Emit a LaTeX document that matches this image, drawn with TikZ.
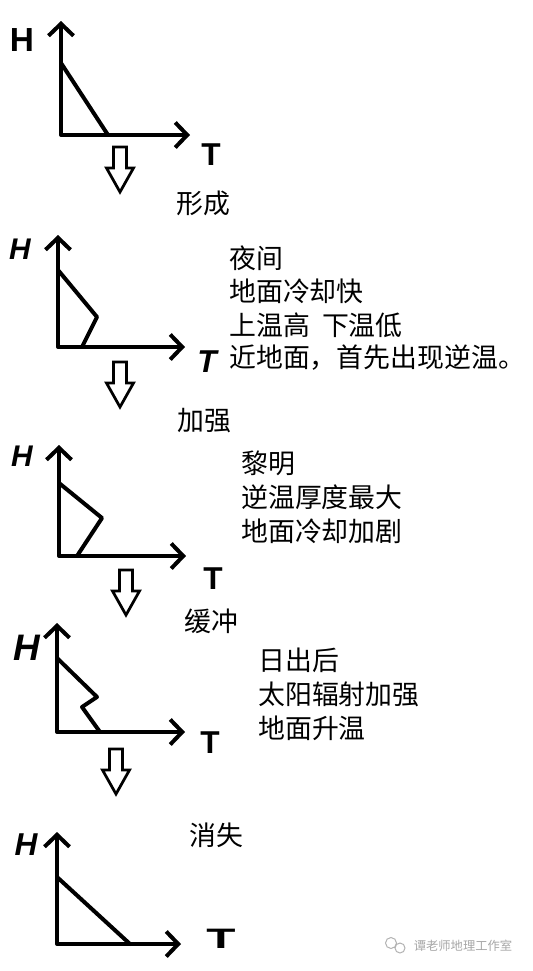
\documentclass[tikz,border=0pt]{standalone}
\usepackage{fontspec}
\setmainfont{Liberation Sans}
\newfontfamily\cjk{Noto Sans CJK SC}
\usetikzlibrary{arrows.meta,positioning}

\tikzset{
  barb/.tip={Straight Barb[length=0.24cm,width=0.5cm]},
  axes/.style={line width=0.08cm,line cap=round,line join=round,barb-barb},
  profile/.style={line width=0.08cm,line cap=round,line join=round},
  lbl/.style={font=\bfseries\fontsize{18pt}{18pt}\selectfont,inner sep=0pt},
  txt/.style={font=\cjk\fontsize{15.3pt}{19pt}\selectfont,inner sep=0pt,anchor=west},
  blockdown/.pic={\draw[line width=0.055cm,line join=miter]
      (-6.5,0) -- (-6.5,21) -- (-13.5,21) -- (0,45) -- (13.5,21) -- (6.5,21) -- (6.5,0) -- cycle;}
}

\begin{document}
\begin{tikzpicture}[x=0.02cm,y=-0.02cm]
  \useasboundingbox (0,0) rectangle (533,971);

  % formation
  \coordinate (o1) at (61,135); \coordinate (h1) at (61,21); \coordinate (t1) at (190,135);
  \draw[axes] (h1) -- (o1) -- (t1);
  \draw[profile] (61,63) -- (108,135);
  \node[lbl,font=\bfseries\fontsize{19pt}{19pt}\selectfont] (H1) at (22,40) {H};
  \node[lbl] (T1) at (211,155) {T};
  \pic at (120,147) {blockdown};
  \node[txt,anchor=center] (s1) at (203,203) {形成};

  % night
  \coordinate (o2) at (58,347); \coordinate (h2) at (58,235); \coordinate (t2) at (185,347);
  \draw[axes] (h2) -- (o2) -- (t2);
  \draw[profile] (58,270) -- (97,317) -- (82,347);
  \node[lbl,font=\bfseries\itshape\fontsize{17pt}{17pt}\selectfont] (H2) at (20,249) {H};
  \node[lbl,font=\bfseries\itshape\fontsize{18pt}{18pt}\selectfont] (T2) at (207,362) {T};
  \node[txt] (a1) at (229,258) {夜间};
  \node[txt] (a2) at (229,291) {地面冷却快};
  \node[txt] (a3) at (229,325) {上温高\ \ 下温低};
  \node[txt] (a4) at (229,358) {近地面，首先出现逆温。};
  \pic at (120,362) {blockdown};
  \node[txt,anchor=center] (s2) at (204,421) {加强};

  % dawn
  \coordinate (o3) at (59,556); \coordinate (h3) at (59,445); \coordinate (t3) at (186,556);
  \draw[axes] (h3) -- (o3) -- (t3);
  \draw[profile] (59,483) -- (102,518) -- (77,556);
  \node[lbl,font=\bfseries\itshape\fontsize{17pt}{17pt}\selectfont] (H3) at (22,456) {H};
  \node[lbl] (T3) at (213,579) {T};
  \node[txt] (b1) at (241,463) {黎明};
  \node[txt] (b2) at (241,497) {逆温厚度最大};
  \node[txt] (b3) at (241,531) {地面冷却加剧};
  \pic at (126,570) {blockdown};
  \node[txt,anchor=center] (s3) at (211,621) {缓冲};

  % sunrise
  \coordinate (o4) at (57,732); \coordinate (h4) at (57,623); \coordinate (t4) at (185,732);
  \draw[axes] (h4) -- (o4) -- (t4);
  \draw[profile] (57,658) -- (97,697) -- (82,707) -- (100,732);
  \node[lbl,font=\bfseries\itshape\fontsize{21pt}{21pt}\selectfont] (H4) at (27,648) {H};
  \node[lbl] (T4) at (210,743) {T};
  \node[txt] (c1) at (258,660) {日出后};
  \node[txt] (c2) at (258,694) {太阳辐射加强};
  \node[txt] (c3) at (258,728) {地面升温};
  \pic at (116,749) {blockdown};

  % vanish
  \coordinate (o5) at (57,944); \coordinate (h5) at (57,832); \coordinate (t5) at (181,944);
  \draw[axes] (h5) -- (o5) -- (t5);
  \draw[profile] (57,877) -- (130,944);
  \node[lbl,font=\bfseries\itshape\fontsize{18pt}{18pt}\selectfont] (H5) at (26,845) {H};
  \node[lbl,font=\bfseries\fontsize{16pt}{16pt}\selectfont,xscale=1.7] (T5) at (221,939) {T};
  \node[txt,anchor=center] (s5) at (216,835) {消失};

  % watermark
  \draw[gray!60,line width=0.02cm] (391,943) circle (5.5) (400,948) circle (5);
  \node[font=\cjk\fontsize{7pt}{7pt}\selectfont,text=gray!70,inner sep=0pt] (wm) at (463,946) {谭老师地理工作室};
\end{tikzpicture}
\end{document}
